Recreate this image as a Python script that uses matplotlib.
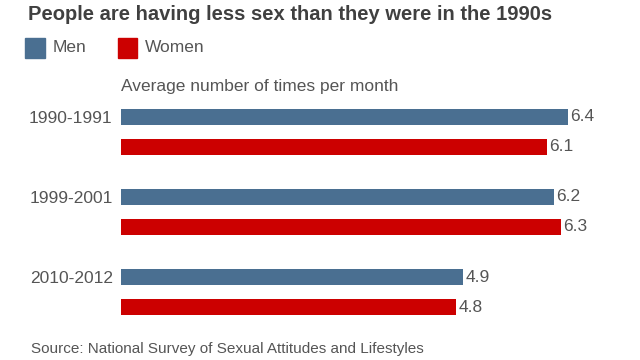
import matplotlib
matplotlib.use("Agg")
import matplotlib.pyplot as plt
from matplotlib.patches import Rectangle

periods = ["1990-1991", "1999-2001", "2010-2012"]
men = [6.4, 6.2, 4.9]
women = [6.1, 6.3, 4.8]

BLUE = "#4a6f91"
RED = "#cc0000"
GREY = "#555555"

plt.rcParams["font.family"] = ["Liberation Sans", "DejaVu Sans"]

fig = plt.figure(figsize=(6.4, 3.6), dpi=100)
# axes placed in pixel terms: x from 121px, y from 100px to 325px (top-down)
ax = fig.add_axes([121 / 640, 1 - 325 / 360, 480 / 640, 225 / 360])
ax.set_xlim(0, 480 / 69.8)
ax.set_ylim(2.6, -0.2125)

offset = 0.375
h = 0.2
for i in range(len(periods)):
    ax.barh(i, men[i], height=h, color=BLUE, left=0)
    ax.barh(i + offset, women[i], height=h, color=RED, left=0)
    ax.text(men[i] + 0.04, i, "%.1f" % men[i], va="center", ha="left",
            fontsize=12.5, color=GREY)
    ax.text(women[i] + 0.04, i + offset, "%.1f" % women[i], va="center",
            ha="left", fontsize=12.5, color=GREY)

ax.set_yticks(range(len(periods)))
ax.set_yticklabels(periods, fontsize=12.5, color=GREY)
ax.tick_params(axis="y", length=0, pad=6)
ax.set_xticks([])
for s in ax.spines.values():
    s.set_visible(False)

# title, legend, subtitle, source
fig.text(28 / 640, 1 - 15 / 360, "People are having less sex than they were in the 1990s",
         fontsize=14.5, fontweight="bold", color="#404040", va="center", ha="left")
fig.patches.append(Rectangle((25 / 640, 1 - 58 / 360), 20 / 640, 20 / 360,
                             transform=fig.transFigure, color=BLUE))
fig.text(53 / 640, 1 - 48 / 360, "Men", fontsize=12.5, color=GREY, va="center")
fig.patches.append(Rectangle((118 / 640, 1 - 58 / 360), 19 / 640, 20 / 360,
                             transform=fig.transFigure, color=RED))
fig.text(145 / 640, 1 - 48 / 360, "Women", fontsize=12.5, color=GREY, va="center")
fig.text(121 / 640, 1 - 87 / 360, "Average number of times per month",
         fontsize=12.5, color=GREY, va="center")
fig.text(31 / 640, 1 - 349 / 360, "Source: National Survey of Sexual Attitudes and Lifestyles",
         fontsize=11, color=GREY, va="center")

fig.savefig("out.png", dpi=100)
